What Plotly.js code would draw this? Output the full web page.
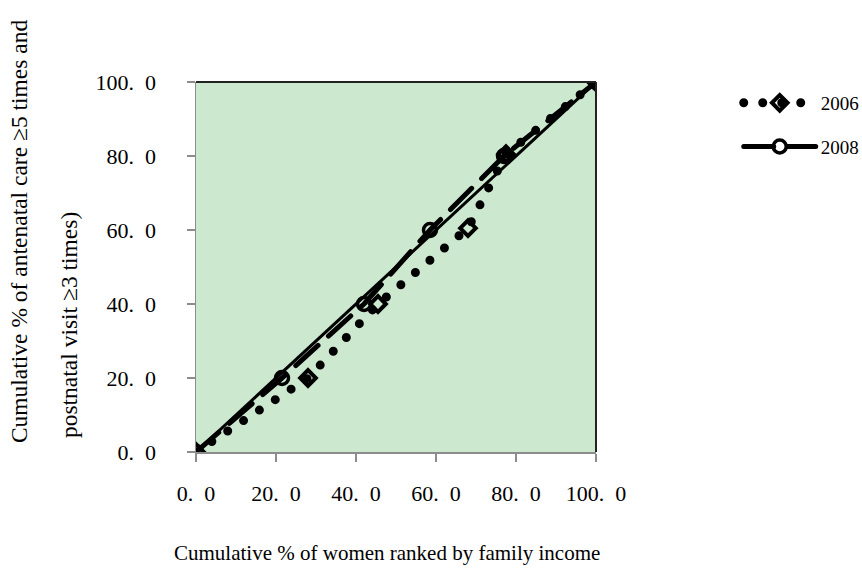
<!DOCTYPE html>
<html>
<head>
<meta charset="utf-8">
<script src="https://cdn.plot.ly/plotly-3.0.1.min.js"></script>
<style>
html,body{margin:0;padding:0;background:#fff;}
#chart{width:862px;height:571px;}
.scatterlayer .trace:nth-child(2) .js-line,
.scatterlayer .trace:nth-child(3) .js-line,
.legend .traces .legendlines path { stroke-linecap: round; }
</style>
</head>
<body>
<div id="chart"></div>
<script>
// Data
const x2006 = [0, 28, 45.5, 68, 77.5, 100];
const y2006 = [0, 20, 40, 60.5, 80.5, 100];
const x2008 = [0, 21.5, 42, 58.5, 77, 100];
const y2008 = [0, 20, 40, 60, 80, 100];
const xEqual = [0, 100];
const yEqual = [0, 100];
const tickVals = [0, 20, 40, 60, 80, 100];
const tickText = ["0.\u20020", "20.\u20020", "40.\u20020", "60.\u20020", "80.\u20020", "100.\u20020"];
const seriesNames = ["2006", "2008"];
const xTitle = "Cumulative % of women ranked by family income";
const yTitleLines = ["Cumulative % of antenatal care \u22655 times and", "postnatal visit \u22653 times)"];

const serif = "Liberation Serif, Times New Roman, serif";

const traces = [
  {
    x: xEqual, y: yEqual, mode: "lines", showlegend: false, hoverinfo: "skip",
    line: {color: "#000", width: 3}
  },
  {
    x: x2006, y: y2006, name: seriesNames[0], mode: "lines+markers", legendgroup: "a",
    line: {color: "#000", width: 9, dash: "0px,19px"},
    marker: {symbol: "diamond-open", size: 12, color: "#000", line: {color: "#000", width: 4}}
  },
  {
    x: x2008, y: y2008, name: seriesNames[1], mode: "lines+markers", legendgroup: "b",
    line: {color: "#000", width: 5, dash: "30px,14px"},
    marker: {symbol: "circle-open", size: 13, color: "#000", line: {color: "#000", width: 3.5}}
  }
];

const layout = {
  width: 862, height: 571,
  margin: {l: 196, r: 266, t: 82, b: 119, autoexpand: false},
  paper_bgcolor: "#fff",
  plot_bgcolor: "#cce8cf",
  showlegend: true,
  legend: {
    xref: "container", yref: "container",
    x: 0.857, xanchor: "left", y: 0.853, yanchor: "top",
    font: {family: serif, size: 19, color: "#000"},
    itemwidth: 72, tracegroupgap: 16, traceorder: "grouped",
    bgcolor: "rgba(0,0,0,0)"
  },
  xaxis: {
    range: [0, 100], tickvals: tickVals, ticktext: tickText,
    showgrid: false, zeroline: false,
    showline: true, linecolor: "#8c8c8c", linewidth: 1.5,
    ticks: "outside", ticklen: 8, tickcolor: "#8c8c8c", tickwidth: 1.5,
    ticklabelstandoff: 13,
    tickfont: {family: serif, size: 22, color: "#000"}
  },
  yaxis: {
    range: [0, 100], tickvals: tickVals, ticktext: tickText,
    showgrid: false, zeroline: false,
    showline: true, linecolor: "#8c8c8c", linewidth: 1.5,
    ticks: "outside", ticklen: 8, tickcolor: "#8c8c8c", tickwidth: 1.5,
    ticklabelstandoff: 26,
    tickfont: {family: serif, size: 22, color: "#000"}
  },
  shapes: [
    {type: "line", xref: "paper", yref: "paper", x0: 0, x1: 1, y0: 1, y1: 1, line: {color: "#222", width: 2}},
    {type: "line", xref: "paper", yref: "paper", x0: 1, x1: 1, y0: 0, y1: 1, line: {color: "#222", width: 2}}
  ],
  annotations: [
    {text: xTitle, xref: "paper", yref: "paper", x: 0.4775, y: -0.273, xanchor: "center", yanchor: "middle",
     showarrow: false, font: {family: serif, size: 21, color: "#000"}},
    {text: yTitleLines[0], xref: "paper", yref: "paper", x: -0.4425, y: 0.597, xanchor: "center", yanchor: "middle",
     textangle: -90, showarrow: false, font: {family: serif, size: 23.5, color: "#000"}},
    {text: yTitleLines[1], xref: "paper", yref: "paper", x: -0.3175, y: 0.343, xanchor: "center", yanchor: "middle",
     textangle: -90, showarrow: false, font: {family: serif, size: 23.5, color: "#000"}}
  ]
};

Plotly.newPlot("chart", traces, layout, {displayModeBar: false, staticPlot: true});
</script>
</body>
</html>
